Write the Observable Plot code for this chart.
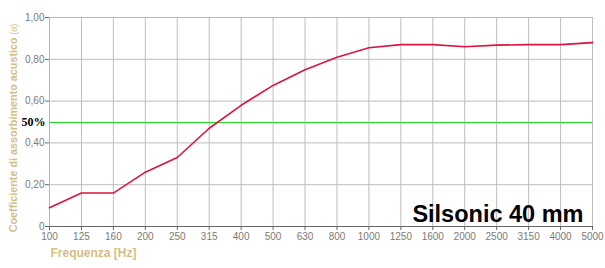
<!DOCTYPE html>
<html><head><meta charset="utf-8">
<script src="https://cdn.jsdelivr.net/npm/d3@7"></script>
<script src="https://cdn.jsdelivr.net/npm/@observablehq/plot@0.6"></script>
<style>body{margin:0;background:#fff;} #chart svg{display:block}</style>
</head><body><div id="chart"></div>
<script>
const frequencies = ["100","125","160","200","250","315","400","500","630","800","1000","1250","1600","2000","2500","3150","4000","5000"];
const absorption = [0.09,0.16,0.16,0.26,0.33,0.47,0.58,0.675,0.75,0.81,0.855,0.87,0.87,0.86,0.868,0.87,0.87,0.88];
const yTicks = [0,0.2,0.4,0.6,0.8,1.0];
const yTickLabels = ["0","0,20","0,40","0,60","0,80","1,00"];
const referenceLevel = 0.5;
const referenceLabel = "50%";
const productLabel = "Silsonic 40 mm";
const xTitle = "Frequenza [Hz]";
const yTitle = "Coefficiente di assorbimento acustico";
const yTitleUnit = " (α)";

const data = frequencies.map((f, i) => ({f, a: absorption[i]}));
const titleColor = "#d6bd86";

const plot = Plot.plot({
  width: 605, height: 268,
  marginLeft: 49, marginRight: 13, marginTop: 17, marginBottom: 42,
  style: {fontFamily: "'Liberation Sans', Arial, sans-serif", fontSize: "10px", color: "#777", background: "#fff", overflow: "visible"},
  x: {type: "point", domain: frequencies, padding: 0, round: false, label: null},
  y: {domain: [0, 1], label: null},
  marks: [
    Plot.gridX(frequencies, {stroke: "#bdbdbd", strokeOpacity: 1}),
    Plot.gridY(yTicks.slice(1), {stroke: "#bdbdbd", strokeOpacity: 1}),
    Plot.ruleY([referenceLevel], {stroke: "#22d822", strokeWidth: 1, shapeRendering: "crispEdges"}),
    Plot.ruleY([0], {stroke: "#666"}),
    Plot.ruleX([frequencies[0]], {stroke: "#9fc49f"}),
    Plot.axisX({ticks: frequencies, tickSize: 4, tickPadding: 2, stroke: "#666", fill: "#7a7a7a", fontSize: 10, label: null}),
    Plot.axisY({ticks: yTicks, tickFormat: d => yTickLabels[yTicks.indexOf(d)], tickSize: 4, tickPadding: 1, stroke: "#666", fill: "#7a7a7a", fontSize: 10, label: null}),
    Plot.line(data, {x: "f", y: "a", stroke: "#dc1440", strokeWidth: 1.6}),
    Plot.text([referenceLevel], {x: () => frequencies[0], y: d => d, text: () => referenceLabel, dx: -4, textAnchor: "end", fontFamily: "'Liberation Serif', 'Times New Roman', serif", fontWeight: "bold", fontSize: 12, fill: "#000"}),
    Plot.text([productLabel], {text: d => d, frameAnchor: "bottom-right", dx: -9, dy: -5, textAnchor: "end", fontSize: 23.5, fontWeight: "bold", fill: "#000"}),
    Plot.text([xTitle], {text: d => d, frameAnchor: "bottom-left", dx: 1, dy: 30, textAnchor: "start", fontSize: 12, fontWeight: "bold", fill: titleColor})
  ]
});

const svg = d3.select(plot);
const t = svg.append("text")
  .attr("transform", "translate(17,128) rotate(-90)")
  .attr("text-anchor", "middle")
  .attr("font-family", "'Liberation Sans', Arial, sans-serif")
  .attr("fill", titleColor);
t.append("tspan").attr("font-weight", "bold").attr("font-size", 10.8).text(yTitle);
t.append("tspan").attr("font-size", 9).text(yTitleUnit);

document.getElementById("chart").appendChild(plot);
</script>
</body></html>
